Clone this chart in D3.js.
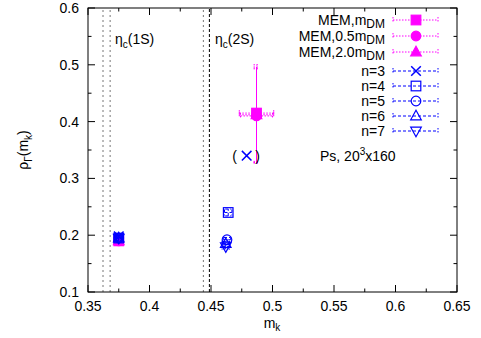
<!DOCTYPE html>
<html>
<head>
  <style>
    body { margin: 0; background: #fff; }
    text { font-family: "Liberation Sans", Arial, sans-serif; fill: #000; }
  </style>
</head>
<body>
  <script src="https://d3js.org/d3.v7.min.js"></script>
  <script>
    // values: [x, y, xerr, yerr]
    var memM   = [[0.375, 0.190, 0.003, 0.006], [0.487, 0.415, 0.014, 0.085]];
    var memM05 = [[0.375, 0.190, 0.003, 0.006], [0.487, 0.410, 0.013, 0.083]];
    var memM20 = [[0.375, 0.190, 0.003, 0.006], [0.487, 0.412, 0.014, 0.084]];
    var n3 = [[0.375, 0.198, 0.003, 0.005], [0.479, 0.340, 0.000, 0.000]];
    var n4 = [[0.375, 0.195, 0.003, 0.005], [0.464, 0.240, 0.003, 0.006]];
    var n5 = [[0.375, 0.195, 0.003, 0.005], [0.463, 0.192, 0.003, 0.004]];
    var n6 = [[0.375, 0.195, 0.003, 0.005], [0.462, 0.185, 0.003, 0.004]];
    var n7 = [[0.375, 0.195, 0.003, 0.005], [0.462, 0.180, 0.003, 0.004]];

    var etaLines = [0.3622, 0.368, 0.4438, 0.4487];
    var xTicks = [0.35, 0.4, 0.45, 0.5, 0.55, 0.6, 0.65];
    var yTicks = [0.1, 0.2, 0.3, 0.4, 0.5, 0.6];

    var width = 481, height = 338;
    var svg = d3.select("body").append("svg")
        .attr("width", width).attr("height", height);

    var x = d3.scaleLinear().domain([0.35, 0.65]).range([88, 457]);
    var y = d3.scaleLinear().domain([0.1, 0.6]).range([292, 8]);

    var magenta = "#ff00ff", blue = "#0000ff";

    var series = [
      {data: memM,   color: magenta, marker: "square", fill: true, dash: "1.5,1.5", label: ["MEM,m", "DM"]},
      {data: memM05, color: magenta, marker: "circle", fill: true, dash: "1.5,1.5", label: ["MEM,0.5m", "DM"]},
      {data: memM20, color: magenta, marker: "triangle", fill: true, dash: "1.5,1.5", label: ["MEM,2.0m", "DM"]},
      {data: n3, color: blue, marker: "cross", fill: false, dash: "3,2", label: ["n=3"]},
      {data: n4, color: blue, marker: "square", fill: false, dash: "3,2", label: ["n=4"]},
      {data: n5, color: blue, marker: "circle", fill: false, dash: "3,2", label: ["n=5"]},
      {data: n6, color: blue, marker: "triangle", fill: false, dash: "3,2", label: ["n=6"]},
      {data: n7, color: blue, marker: "down", fill: false, dash: "3,2", label: ["n=7"]}
    ];

    // eta_c lines
    svg.selectAll(".eta").data(etaLines).enter().append("line")
        .attr("x1", d => x(d)).attr("x2", d => x(d))
        .attr("y1", y(0.1)).attr("y2", y(0.6))
        .attr("stroke", (d, i) => i === 3 ? "#000" : "#777")
        .attr("stroke-width", 1)
        .attr("stroke-dasharray", (d, i) => i === 3 ? "3,2" : "2,3");

    // frame
    svg.append("rect")
        .attr("x", x(0.35)).attr("y", y(0.6))
        .attr("width", x(0.65) - x(0.35)).attr("height", y(0.1) - y(0.6))
        .attr("fill", "none").attr("stroke", "#000").attr("stroke-width", 1);

    // ticks on all sides
    var xMinor = d3.range(0.375, 0.65, 0.05);
    var yMinor = d3.range(0.15, 0.6, 0.1);
    var tk = svg.append("g").attr("stroke", "#000").attr("stroke-width", 1);
    xTicks.forEach(function(t) {
      tk.append("line").attr("x1", x(t)).attr("x2", x(t)).attr("y1", y(0.1)).attr("y2", y(0.1) - 7);
      tk.append("line").attr("x1", x(t)).attr("x2", x(t)).attr("y1", y(0.6)).attr("y2", y(0.6) + 7);
    });
    xMinor.forEach(function(t) {
      tk.append("line").attr("x1", x(t)).attr("x2", x(t)).attr("y1", y(0.1)).attr("y2", y(0.1) - 3.5);
      tk.append("line").attr("x1", x(t)).attr("x2", x(t)).attr("y1", y(0.6)).attr("y2", y(0.6) + 3.5);
    });
    yTicks.forEach(function(t) {
      tk.append("line").attr("x1", x(0.35)).attr("x2", x(0.35) + 7).attr("y1", y(t)).attr("y2", y(t));
      tk.append("line").attr("x1", x(0.65)).attr("x2", x(0.65) - 7).attr("y1", y(t)).attr("y2", y(t));
    });
    yMinor.forEach(function(t) {
      tk.append("line").attr("x1", x(0.35)).attr("x2", x(0.35) + 3.5).attr("y1", y(t)).attr("y2", y(t));
      tk.append("line").attr("x1", x(0.65)).attr("x2", x(0.65) - 3.5).attr("y1", y(t)).attr("y2", y(t));
    });

    svg.selectAll(".xl").data(xTicks).enter().append("text")
        .attr("x", d => x(d)).attr("y", y(0.1) + 19)
        .attr("text-anchor", "middle").attr("font-size", 14)
        .text(d => d3.format("")(d));
    svg.selectAll(".yl").data(yTicks).enter().append("text")
        .attr("x", x(0.35) - 9).attr("y", d => y(d) + 5)
        .attr("text-anchor", "end").attr("font-size", 14)
        .text(d => d3.format(".1f")(d));

    // axis titles
    var xt = svg.append("text").attr("x", 272).attr("y", 328)
        .attr("text-anchor", "middle").attr("font-size", 14);
    xt.append("tspan").text("m");
    xt.append("tspan").attr("dy", 3).attr("font-size", 10).text("k");

    var yt = svg.append("text").attr("transform", "translate(28,150) rotate(-90)")
        .attr("text-anchor", "middle").attr("font-size", 14);
    yt.append("tspan").text("\u03C1");
    yt.append("tspan").attr("dy", 4).attr("font-size", 10).text("\u0393");
    yt.append("tspan").attr("dy", -4).text("(m");
    yt.append("tspan").attr("dy", 4).attr("font-size", 10).text("k");
    yt.append("tspan").attr("dy", -4).text(")");

    function etaLabel(px, txt) {
      var t = svg.append("text").attr("x", px).attr("y", 44).attr("font-size", 14);
      t.append("tspan").text("\u03B7");
      t.append("tspan").attr("dy", 4).attr("font-size", 10).text("c");
      t.append("tspan").attr("dy", -4).text(txt);
    }
    etaLabel(115, "(1S)");
    etaLabel(215, "(2S)");

    var ps = svg.append("text").attr("x", 320).attr("y", 161).attr("font-size", 14);
    ps.append("tspan").text("Ps, 20");
    ps.append("tspan").attr("dy", -6).attr("font-size", 10).text("3");
    ps.append("tspan").attr("dy", 6).text("x160");

    // markers
    function drawMarker(g, kind, cx, cy, color, fill) {
      var s = 4.8;
      var f = fill ? color : "none";
      if (kind === "square") {
        g.append("rect").attr("x", cx - s).attr("y", cy - s).attr("width", 2 * s).attr("height", 2 * s)
          .attr("fill", f).attr("stroke", color).attr("stroke-width", 1.2);
      } else if (kind === "circle") {
        g.append("circle").attr("cx", cx).attr("cy", cy).attr("r", s)
          .attr("fill", f).attr("stroke", color).attr("stroke-width", 1.2);
      } else if (kind === "triangle") {
        g.append("path").attr("d", "M" + cx + "," + (cy - s - 1) + "L" + (cx + s + 0.5) + "," + (cy + s - 1) + "L" + (cx - s - 0.5) + "," + (cy + s - 1) + "Z")
          .attr("fill", f).attr("stroke", color).attr("stroke-width", 1.2);
      } else if (kind === "down") {
        g.append("path").attr("d", "M" + cx + "," + (cy + s + 1) + "L" + (cx + s + 0.5) + "," + (cy - s + 1) + "L" + (cx - s - 0.5) + "," + (cy - s + 1) + "Z")
          .attr("fill", f).attr("stroke", color).attr("stroke-width", 1.2);
      } else if (kind === "cross") {
        g.append("path").attr("d", "M" + (cx - s) + "," + (cy - s) + "L" + (cx + s) + "," + (cy + s) + "M" + (cx - s) + "," + (cy + s) + "L" + (cx + s) + "," + (cy - s))
          .attr("fill", "none").attr("stroke", color).attr("stroke-width", 1.5);
      }
    }

    // points with error bars
    series.forEach(function(s) {
      var g = svg.append("g");
      s.data.forEach(function(d) {
        var px = x(d[0]), py = y(d[1]);
        if (d[2] > 0) {
          var x0 = x(d[0] - d[2]), x1 = x(d[0] + d[2]);
          g.append("line").attr("x1", x0).attr("x2", x1).attr("y1", py).attr("y2", py)
            .attr("stroke", s.color).attr("stroke-dasharray", s.dash);
          [x0, x1].forEach(function(xx) {
            g.append("line").attr("x1", xx).attr("x2", xx).attr("y1", py - 3).attr("y2", py + 3)
              .attr("stroke", s.color).attr("stroke-dasharray", s.dash);
          });
        }
        if (d[3] > 0) {
          var y0 = y(d[1] - d[3]), y1 = y(d[1] + d[3]);
          g.append("line").attr("x1", px).attr("x2", px).attr("y1", y0).attr("y2", y1)
            .attr("stroke", s.color).attr("stroke-dasharray", s.dash);
          [y0, y1].forEach(function(yy) {
            g.append("line").attr("x1", px - 3).attr("x2", px + 3).attr("y1", yy).attr("y2", yy)
              .attr("stroke", s.color).attr("stroke-dasharray", s.dash);
          });
        }
        drawMarker(g, s.marker, px, py, s.color, s.fill);
      });
    });

    // parentheses around n=3 point
    svg.append("text").attr("x", x(n3[1][0]) - 12).attr("y", y(n3[1][1]) + 5)
        .attr("text-anchor", "middle").attr("font-size", 14).text("(");
    svg.append("text").attr("x", x(n3[1][0]) + 11).attr("y", y(n3[1][1]) + 5)
        .attr("text-anchor", "middle").attr("font-size", 14).text(")");

    // legend
    var legY = [20, 36, 52, 71, 86, 101, 116, 131];
    series.forEach(function(s, i) {
      var ly = legY[i];
      var t = svg.append("text").attr("x", 385).attr("y", ly + 5)
          .attr("text-anchor", "end").attr("font-size", 14);
      t.append("tspan").text(s.label[0]);
      if (s.label[1]) t.append("tspan").attr("dy", 3).attr("font-size", 12).text(s.label[1]);
      var g = svg.append("g");
      g.append("line").attr("x1", 393).attr("x2", 438).attr("y1", ly).attr("y2", ly)
        .attr("stroke", s.color).attr("stroke-dasharray", s.dash);
      [393, 438].forEach(function(xx) {
        g.append("line").attr("x1", xx).attr("x2", xx).attr("y1", ly - 3).attr("y2", ly + 3)
          .attr("stroke", s.color).attr("stroke-dasharray", "1.5,1.5");
      });
      drawMarker(g, s.marker, 416, ly, s.color, s.fill);
    });
  </script>
</body>
</html>
